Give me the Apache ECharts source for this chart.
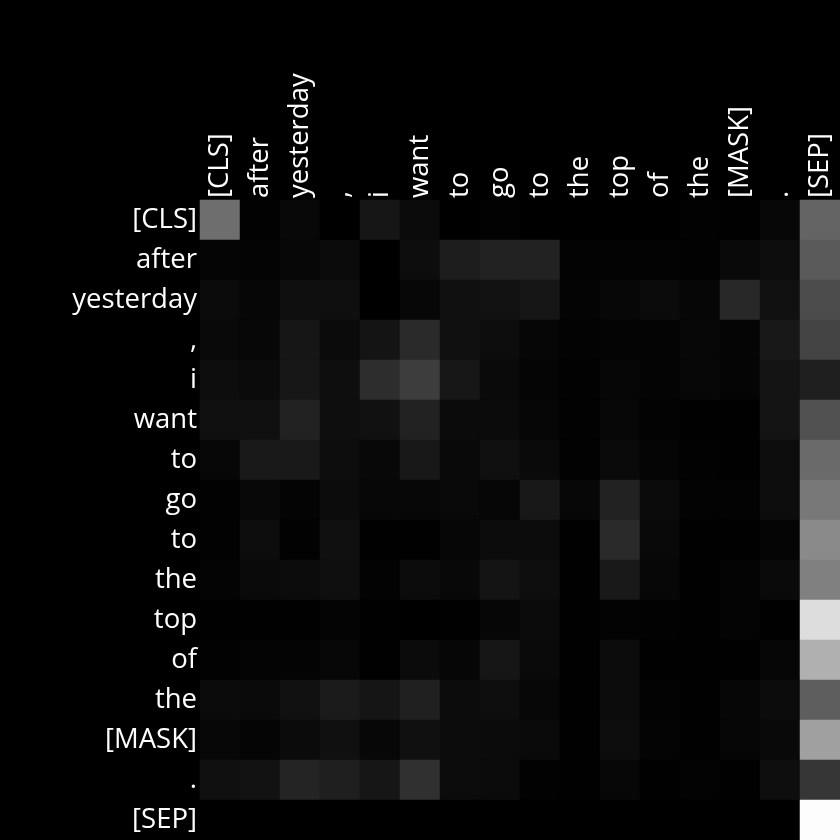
<!DOCTYPE html>
<html><head><meta charset="utf-8">
<script src="https://cdn.jsdelivr.net/npm/echarts@6/dist/echarts.min.js"></script>
<style>html,body{margin:0;padding:0;background:#000;}#c{width:840px;height:840px;}</style>
</head><body><div id="c"></div>
<script>
const tokens = ["[CLS]","after","yesterday",",","i","want","to","go","to","the","top","of","the","[MASK]",".","[SEP]"];
// attention intensity per row (query token) across columns (key tokens), gray level 0-255
const rowCLS   = [110,2,8,0,22,11,0,2,0,0,0,0,2,1,7,100];
const rowAfter = [5,4,7,11,0,13,29,34,34,3,3,3,2,9,13,90];
const rowYest  = [11,6,15,15,0,7,16,18,22,4,7,11,6,40,17,76];
const rowComma = [9,7,22,11,20,42,16,13,6,3,4,4,7,5,24,68];
const rowI     = [13,11,23,14,45,61,23,10,5,2,6,4,7,5,20,31];
const rowWant  = [16,16,34,14,17,34,11,11,6,2,7,3,1,1,20,81];
const rowTo1   = [7,25,25,13,8,24,9,16,10,2,10,5,2,1,13,106];
const rowGo    = [2,8,4,12,7,7,9,6,24,7,34,11,3,3,13,120];
const rowTo2   = [2,13,2,16,1,1,6,12,12,1,42,9,1,1,5,138];
const rowThe1  = [4,10,12,15,3,12,8,20,14,1,25,7,1,4,10,128];
const rowTop   = [1,1,1,4,1,0,1,6,11,1,3,2,1,4,1,221];
const rowOf    = [2,4,4,7,1,11,6,22,10,1,12,1,1,1,6,176];
const rowThe2  = [11,10,17,27,21,32,12,14,7,1,12,3,1,6,12,94];
const rowMask  = [7,5,11,16,7,16,12,11,10,1,13,4,1,6,9,160];
const rowDot   = [16,18,36,31,22,48,12,11,2,1,7,1,3,1,14,54];
const rowSEP   = [0,0,0,0,0,0,0,0,0,0,0,0,0,0,0,253];
const rows = [rowCLS,rowAfter,rowYest,rowComma,rowI,rowWant,rowTo1,rowGo,rowTo2,rowThe1,rowTop,rowOf,rowThe2,rowMask,rowDot,rowSEP];

const data = [];
rows.forEach((r,i)=>r.forEach((v,j)=>data.push([j,i,v])));

const chart = echarts.init(document.getElementById('c'));
chart.setOption({
  backgroundColor:'#000',
  animation:false,
  grid:{left:200,top:200,width:640,height:640},
  xAxis:{type:'category',position:'top',data:tokens,
    axisLine:{show:false},axisTick:{show:false},splitLine:{show:false},
    axisLabel:{interval:0,rotate:-90,color:'#fff',fontFamily:'Open Sans',fontSize:27.5,margin:2}},
  yAxis:{type:'category',inverse:true,data:tokens,
    axisLine:{show:false},axisTick:{show:false},splitLine:{show:false},
    axisLabel:{interval:0,color:'#fff',fontFamily:'Open Sans',fontSize:27.5,margin:3,padding:[7,0,0,0]}},
  visualMap:{show:false,min:0,max:255,dimension:2,inRange:{color:['#000000','#ffffff']}},
  series:[{type:'heatmap',data:data,itemStyle:{borderWidth:0},emphasis:{disabled:true}}]
});
</script></body></html>
